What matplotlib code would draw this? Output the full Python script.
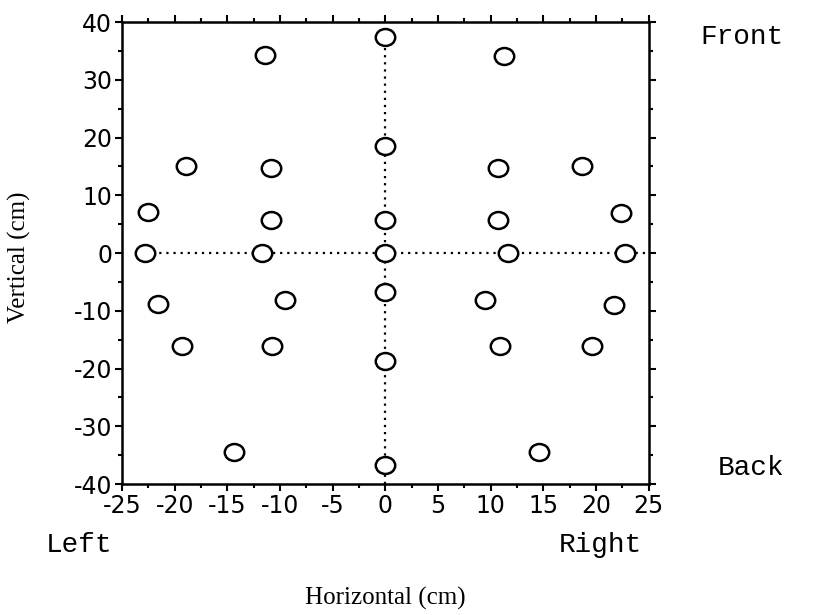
import matplotlib
matplotlib.use("Agg")
import matplotlib.pyplot as plt
from matplotlib.path import Path
from matplotlib.transforms import Affine2D

plt.rcParams["axes.unicode_minus"] = False

# Data: speaker/target positions (cm)
horizontal = [0, -11.4, 11.3, 0, -18.9, -10.9, 10.7, 18.7, -22.5, -10.9, 0, 10.7, 22.4,
              -22.8, -11.7, 0, 11.6, 22.7, -21.6, -9.5, 0, 9.5, 21.7,
              -19.3, -10.8, 0, 10.9, 19.6, -14.4, 0, 14.6]
vertical = [37.5, 34.3, 34.1, 18.5, 15.0, 14.7, 14.7, 15.0, 7.1, 5.7, 5.7, 5.7, 6.9,
            0, 0, 0, 0, 0, -8.8, -8.1, -6.7, -8.1, -9.0,
            -16.1, -16.1, -18.7, -16.1, -16.1, -34.4, -36.7, -34.4]
x_ticks = [-25, -20, -15, -10, -5, 0, 5, 10, 15, 20, 25]
y_ticks = [-40, -30, -20, -10, 0, 10, 20, 30, 40]
h_line_x = [-22.8, 25]
v_line_y = [-40, 37.5]

tick_family = ["Liberation Sans Narrow", "DejaVu Sans Condensed", "DejaVu Sans"]

fig = plt.figure(figsize=(8.13, 6.15), dpi=100)
ax = fig.add_axes([0.150, 0.213, 0.648, 0.751])

ax.plot(h_line_x, [0, 0], linestyle=(0, (1, 2.2)), color="black", lw=1.6, zorder=1)
ax.plot([0, 0], v_line_y, linestyle=(0, (1, 2.2)), color="black", lw=1.6, zorder=1)

ellipse = Path.unit_circle().transformed(Affine2D().scale(1.15, 1.0))
ax.plot(horizontal, vertical, linestyle="none", marker=ellipse, markersize=14,
        markerfacecolor="white", markeredgecolor="black", markeredgewidth=1.8, zorder=3)

ax.set_xlim(-25, 25)
ax.set_ylim(-40, 40)
ax.set_xticks(x_ticks)
ax.set_yticks(y_ticks)
ax.set_xticks([v + 2.5 for v in x_ticks[:-1]], minor=True)
ax.set_yticks([v + 5 for v in y_ticks[:-1]], minor=True)
ax.tick_params(which="both", direction="out", top=True, right=True, width=1.5)
ax.tick_params(which="major", length=5, labelsize=17, pad=2)
ax.tick_params(which="minor", length=3)
for lab in ax.get_xticklabels() + ax.get_yticklabels():
    lab.set_fontfamily(tick_family)
for s in ax.spines.values():
    s.set_linewidth(1.8)

ax.set_xlabel("Horizontal (cm)", family="Liberation Serif", fontsize=18)
ax.set_ylabel("Vertical (cm)", family="Liberation Serif", fontsize=18)
ax.xaxis.set_label_coords(0.5, -0.222)
ax.yaxis.set_label_coords(-0.172, 0.49)

fig.text(700 / 813, 1 - 37 / 615, "Front", family="Liberation Mono", fontsize=20, va="center", ha="left")
fig.text(718 / 813, 1 - 468 / 615, "Back", family="Liberation Mono", fontsize=20, va="center", ha="left")
fig.text(46 / 813, 1 - 545 / 615, "Left", family="Liberation Mono", fontsize=20, va="center", ha="left")
fig.text(642 / 813, 1 - 545 / 615, "Right", family="Liberation Mono", fontsize=20, va="center", ha="right")

fig.savefig("out.png", dpi=100)
